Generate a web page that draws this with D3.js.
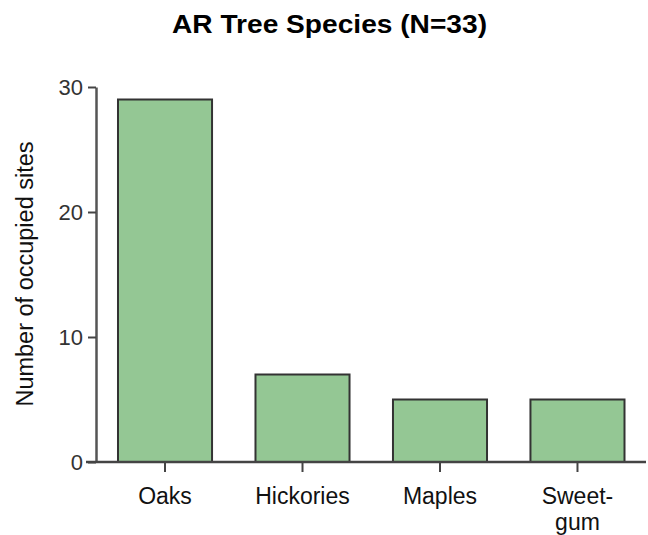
<!DOCTYPE html>
<html><head><meta charset="utf-8">
<script src="https://cdn.jsdelivr.net/npm/d3@7"></script>
<style>body{margin:0;background:#fff}</style>
</head><body>
<script>
const categories = ["Oaks", "Hickories", "Maples", "Sweet-gum"];
const categoryLines = [["Oaks"], ["Hickories"], ["Maples"], ["Sweet-", "gum"]];
const values = [29, 7, 5, 5];
const yTicks = [0, 10, 20, 30];
const title = "AR Tree Species (N=33)";
const yLabel = "Number of occupied sites";

const W = 648, H = 535;
const svg = d3.select("body").append("svg").attr("width", W).attr("height", H)
  .style("font-family", "Arial, 'Liberation Sans', Helvetica, sans-serif");

const x = d3.scaleBand().domain(categories).range([96, 646.5]).paddingInner(0.316).paddingOuter(0.16);
const y = d3.scaleLinear().domain([0, 30]).range([462, 87]);

// bars
svg.append("g").selectAll("rect").data(values).join("rect")
  .attr("x", (d, i) => x(categories[i]))
  .attr("y", d => y(d))
  .attr("width", x.bandwidth())
  .attr("height", d => y(0) - y(d))
  .attr("fill", "#94c794")
  .attr("stroke", "#333")
  .attr("stroke-width", 2);

// y axis
const yAxis = svg.append("g").attr("transform", "translate(96,0)")
  .call(d3.axisLeft(y).tickValues(yTicks).tickSize(8).tickPadding(5).tickSizeOuter(0));
yAxis.select(".domain").attr("stroke", "#555").attr("stroke-width", 2.5);
yAxis.selectAll(".tick line").attr("stroke", "#444").attr("stroke-width", 2);
yAxis.selectAll(".tick text").attr("font-size", 22).attr("fill", "#333").attr("font-family", null);

// x axis
const xAxis = svg.append("g").attr("transform", "translate(0,462)")
  .call(d3.axisBottom(x).tickSize(10).tickSizeOuter(0).tickFormat(""));
xAxis.select(".domain").attr("d", "M86,0H646").attr("stroke", "#444").attr("stroke-width", 2.5);
xAxis.selectAll(".tick line").attr("stroke", "#444").attr("stroke-width", 2);

// category labels
categories.forEach((c, i) => {
  const t = svg.append("text").attr("text-anchor", "middle").attr("font-size", 23).attr("fill", "#111")
    .attr("x", x(c) + x.bandwidth() / 2).attr("y", 504);
  categoryLines[i].forEach((ln, j) => {
    t.append("tspan").attr("x", x(c) + x.bandwidth() / 2).attr("dy", j === 0 ? 0 : 26).text(ln);
  });
});

// title
svg.append("text").attr("x", 329.5).attr("y", 33).attr("text-anchor", "middle")
  .attr("font-size", 25).attr("font-weight", "bold").attr("fill", "#000")
  .attr("textLength", 315).attr("lengthAdjust", "spacingAndGlyphs")
  .text(title);

// y label
svg.append("text").attr("transform", "translate(33,274) rotate(-90)")
  .attr("text-anchor", "middle").attr("font-size", 23.5).attr("fill", "#111")
  .text(yLabel);
</script>
</body></html>
